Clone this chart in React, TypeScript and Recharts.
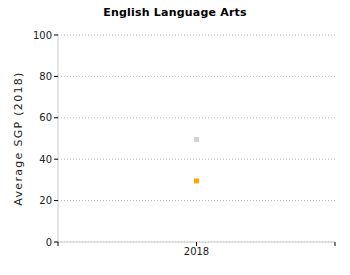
import React from 'react';
import { ComposedChart, Scatter, XAxis, YAxis, CartesianGrid } from 'recharts';

const categories = ['2018'];
const seriesGray = [49.5];
const seriesOrange = [29.5];
const yTicks = [0, 20, 40, 60, 80, 100];

const data = categories.map((c, i) => ({ x: i + 1, year: c, gray: seriesGray[i], orange: seriesOrange[i] }));

const Square = (color: string) => (props: any) => {
  const { cx, cy } = props;
  if (cx == null || cy == null) return null;
  return <rect x={cx - 2.5} y={cy - 2.5} width={5} height={5} fill={color} />;
};

const font = 'DejaVu Sans, Verdana, sans-serif';

export default function App() {
  return (
    <div style={{ position: 'absolute', left: 0, top: 0, width: 350, height: 275, background: '#fff' }}>
      <div style={{ position: 'absolute', left: 0, top: 6, width: 350, textAlign: 'center', fontFamily: font, fontWeight: 'bold', fontSize: 11, letterSpacing: 0.2, color: '#000' }}>
        English Language Arts
      </div>
      <ComposedChart width={350} height={275} data={data} margin={{ top: 35, right: 15, bottom: 3, left: 0 }}>
        <CartesianGrid vertical={false} stroke="#bbb" strokeDasharray="1 2" />
        <XAxis
          dataKey="x"
          type="number"
          domain={[0, 2]}
          ticks={[0, 1, 2]}
          height={30}
          tickFormatter={(v: number) => (v >= 1 && v <= categories.length ? categories[v - 1] : '')}
          axisLine={{ stroke: '#ccc' }}
          tickLine={{ stroke: '#000' }}
          tickSize={4}
          tick={{ fontFamily: font, fontSize: 10, fill: '#222' }}
        />
        <YAxis
          type="number"
          domain={[0, 100]}
          ticks={yTicks}
          width={58}
          axisLine={{ stroke: '#ccc' }}
          tickLine={{ stroke: '#000' }}
          tickSize={4}
          tick={{ fontFamily: font, fontSize: 10, fill: '#222' }}
          label={{ value: 'Average SGP (2018)', angle: -90, position: 'insideLeft', offset: 18, style: { fontFamily: font, fontSize: 11, letterSpacing: 1.3, fill: '#222', textAnchor: 'middle' } }}
        />
        <Scatter dataKey="gray" fill="#d3d3d3" shape={Square('#d3d3d3')} isAnimationActive={false} />
        <Scatter dataKey="orange" fill="#ffa500" shape={Square('#ffa500')} isAnimationActive={false} />
      </ComposedChart>
    </div>
  );
}
